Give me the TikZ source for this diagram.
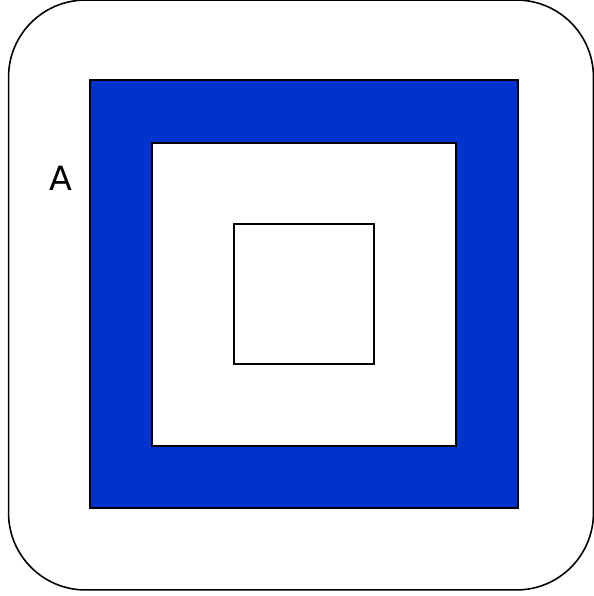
\documentclass[tikz,border=0pt]{standalone}
\usepackage{fontspec}
\setmainfont{DejaVu Sans}
\usepackage{tikz}
\definecolor{squareblue}{RGB}{0, 51, 204}
\usetikzlibrary{positioning}

\begin{document}
\begin{tikzpicture}[x=0.02cm, y=-0.02cm,
    frame/.style={draw=black, line width=0.9pt, rounded corners=1.54cm,
                  inner sep=0pt, outer sep=0pt, minimum width=11.7cm, minimum height=11.8cm},
    sq/.style={draw=black, line width=0.9pt, inner sep=0pt, outer sep=0pt}
]
    \useasboundingbox (0,0) rectangle (594,596);

    % Outer frame
    \node[frame] (frame) at (301,295) {};

    % Squares
    \node[sq, fill=squareblue, minimum size=8.56cm] (outer) at (304,294) {};
    \node[sq, fill=white, minimum width=6.08cm, minimum height=6.06cm] (middle) at (304,294.5) {};
    \node[sq, fill=white, minimum size=2.8cm] (inner) at (304,294) {};

    % Label
    \node[font=\fontsize{19}{22}\selectfont, inner sep=0pt, anchor=center] (lbl) at (61,178) {A};
\end{tikzpicture}
\end{document}
